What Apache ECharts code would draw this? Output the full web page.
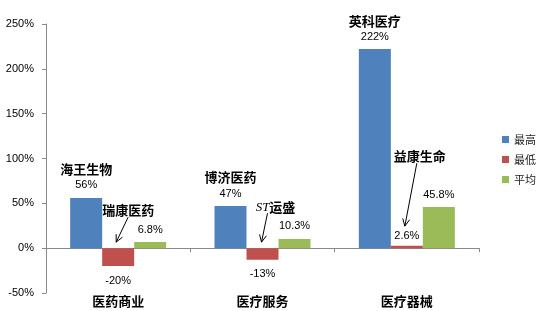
<!DOCTYPE html>
<html>
<head>
<meta charset="utf-8">
<script src="https://cdn.jsdelivr.net/npm/echarts@6/dist/echarts.min.js"></script>
<style>html,body{margin:0;padding:0;background:#fff;}#c{width:545px;height:311px;}</style>
</head>
<body>
<div id="c"></div>
<script>
const categories = ['医药商业', '医疗服务', '医疗器械'];
const seriesNames = ['最高', '最低', '平均'];
const maxNames = ['海王生物', '博济医药', '英科医疗'];
const maxValues = [56, 47, 222];
const minNames = ['瑞康医药', 'ST运盛', '益康生命'];
const minValues = [-20, -13, 2.6];
const avgValues = [6.8, 10.3, 45.8];
const yMin = -50, yMax = 250, yInterval = 50;

const colors = ['#4F81BD', '#C0504D', '#9BBB59'];
const axisColor = '#898989';
const numFont = "'Liberation Sans', Arial, sans-serif";
const cjkFont = "'Noto Sans CJK SC', sans-serif";

const chart = echarts.init(document.getElementById('c'));
const pct = v => v + '%';

chart.setOption({
  animation: false,
  backgroundColor: '#fff',
  color: colors,
  grid: { left: 46, right: 66, top: 24, bottom: 18 },
  legend: {
    orient: 'vertical', left: 497, top: 129,
    itemWidth: 7, itemHeight: 7, itemGap: 9,
    icon: 'rect',
    textStyle: { fontFamily: cjkFont, fontSize: 11, color: '#222' },
    data: seriesNames
  },
  xAxis: [{
    type: 'category', data: categories,
    axisLine: { onZero: true, lineStyle: { color: axisColor, width: 1 } },
    axisTick: { show: true, length: 4, lineStyle: { color: axisColor } },
    axisLabel: { show: false }
  }, {
    type: 'category', data: categories, position: 'bottom',
    axisLine: { show: false, onZero: false }, axisTick: { show: false },
    axisLabel: { margin: 2, fontFamily: cjkFont, fontWeight: 'bold', fontSize: 13, color: '#000' }
  }],
  yAxis: {
    type: 'value', min: yMin, max: yMax, interval: yInterval,
    axisLine: { show: true, lineStyle: { color: axisColor } },
    axisTick: { show: true, length: 4, lineStyle: { color: axisColor } },
    splitLine: { show: false },
    axisLabel: { margin: 12, formatter: pct, fontFamily: numFont, fontSize: 11, color: '#000' }
  },
  series: [{
    name: seriesNames[0], type: 'bar', barWidth: 32, barGap: '0%',
    data: maxValues,
    label: {
      show: true, position: 'top', distance: 5,
      formatter: p => '{n|' + maxNames[p.dataIndex] + '}\n{v|' + pct(p.value) + '}',
      rich: {
        n: { fontFamily: cjkFont, fontWeight: 'bold', fontSize: 13, color: '#000', lineHeight: 17 },
        v: { fontFamily: numFont, fontSize: 11, color: '#000', lineHeight: 15 }
      }
    }
  }, {
    name: seriesNames[1], type: 'bar', barWidth: 32, barGap: '0%',
    data: minValues.map(v => ({
      value: v,
      label: { position: v < 0 ? 'bottom' : 'top', distance: v < 0 ? 9 : 4 }
    })),
    label: { show: true, formatter: p => pct(p.value), fontFamily: numFont, fontSize: 11, color: '#000' }
  }, {
    name: seriesNames[2], type: 'bar', barWidth: 32, barGap: '0%',
    data: avgValues,
    label: { show: true, position: 'top', distance: 7, formatter: p => pct(p.value), fontFamily: numFont, fontSize: 11, color: '#000' }
  }]
});

// annotations with arrows pointing at the lowest bars (offsets relative to category centre at zero)
const annot = [
  { text: [10, -38], from: [10, -31], to: [-2, -6] },
  { text: [13, -41], from: [5, -35], to: [-1, -6] },
  { text: [13, -92], from: [10, -85], to: [-2, -22] }
];
const graphics = [];
annot.forEach((a, i) => {
  const base = chart.convertToPixel({ xAxisIndex: 0, yAxisIndex: 0 }, [i, 0]);
  const bx = base[0], by = base[1];
  const name = minNames[i];
  let richText;
  if (name.startsWith('ST')) {
    richText = '{s|ST}{c|' + name.slice(2) + '}';
  } else {
    richText = '{c|' + name + '}';
  }
  graphics.push({
    type: 'text', x: bx + a.text[0], y: by + a.text[1],
    style: {
      text: richText, align: 'center', verticalAlign: 'middle',
      rich: {
        c: { fontFamily: cjkFont, fontWeight: 'bold', fontSize: 13, fill: '#000' },
        s: { fontFamily: "'Liberation Serif', serif", fontStyle: 'italic', fontSize: 13, fill: '#000' }
      }
    }
  });
  const x1 = bx + a.from[0], y1 = by + a.from[1], x2 = bx + a.to[0], y2 = by + a.to[1];
  graphics.push({ type: 'line', shape: { x1, y1, x2, y2 }, style: { stroke: '#000', lineWidth: 1 } });
  const ang = Math.atan2(y2 - y1, x2 - x1);
  const L = 8, sp = 0.45;
  graphics.push({
    type: 'polyline',
    shape: { points: [
      [x2 - L * Math.cos(ang - sp), y2 - L * Math.sin(ang - sp)],
      [x2, y2],
      [x2 - L * Math.cos(ang + sp), y2 - L * Math.sin(ang + sp)]
    ] },
    style: { stroke: '#000', lineWidth: 1, fill: null }
  });
});
chart.setOption({ graphic: graphics });
</script>
</body>
</html>
